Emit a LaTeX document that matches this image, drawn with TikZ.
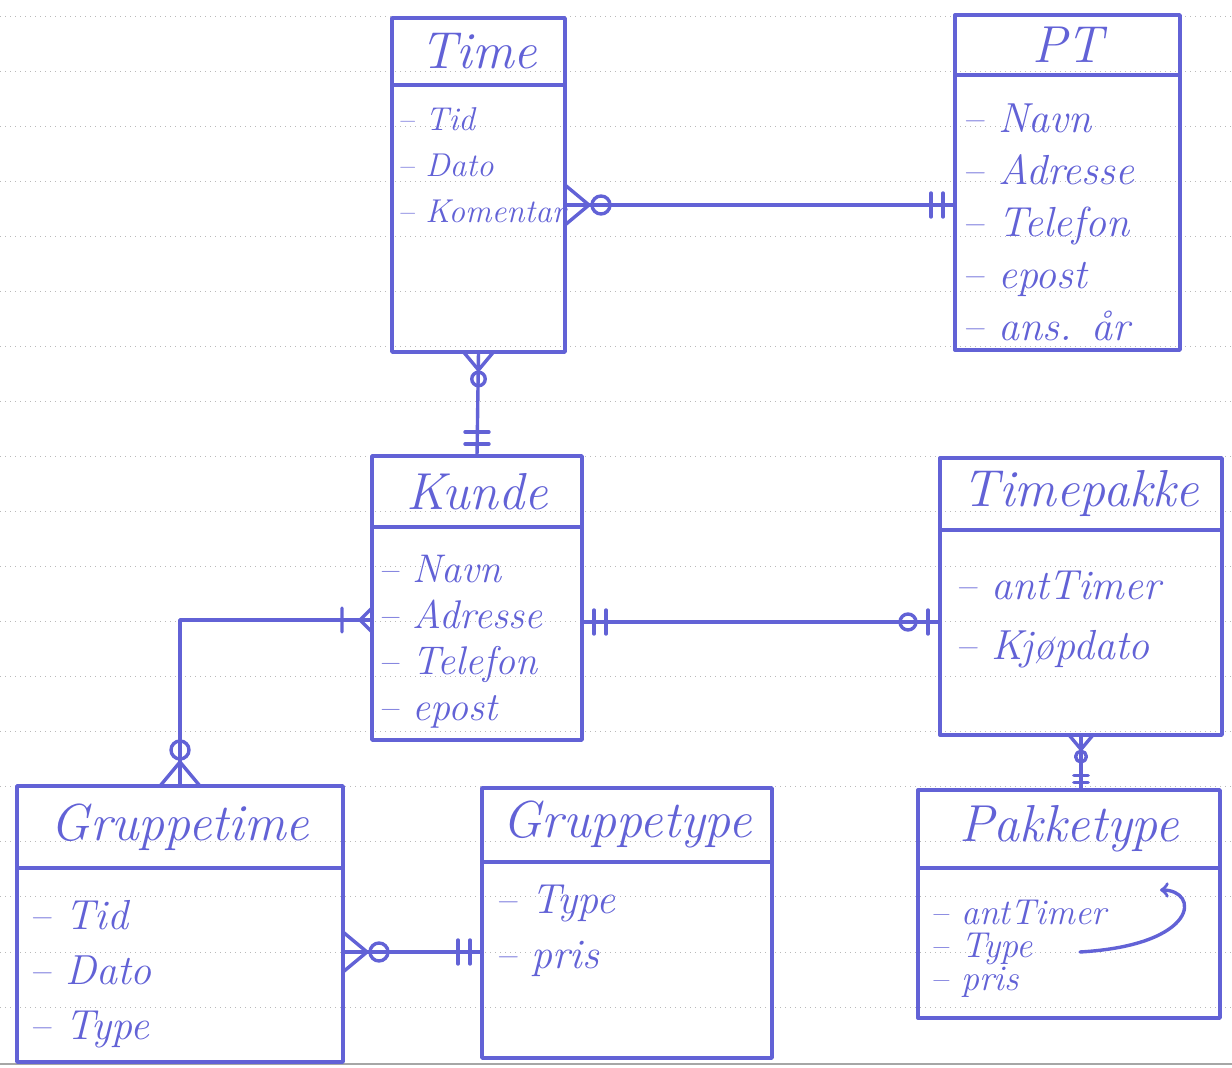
\documentclass[tikz,border=0pt]{standalone}
\usepackage{fontspec}
\usetikzlibrary{positioning}
\definecolor{penblue}{RGB}{98,98,214}
\newcommand\handfont[2]{\fontsize{#1}{#2}\selectfont\itshape}
\tikzset{
  pen/.style={draw=penblue, line width=1.7pt, line cap=round, line join=round},
  titlebox/.style={pen, text=penblue, font=\handfont{26}{30}, inner sep=0pt, outer sep=0pt, anchor=north west},
  bodybox/.style={pen, inner sep=0pt, outer sep=0pt},
  attrs/.style={text=penblue, inner sep=0pt, align=left, anchor=north west},
  ruled/.style={draw=gray!55, dotted, line width=0.5pt},
  % cardinality marks, drawn outward along +x from the box edge
  manyzero/.pic={\draw[pen] (0,-20) -- (24,0) -- (0,20); \draw[pen] (36,0) circle[radius=9];},
  onlyone/.pic={\draw[pen] (12,-12) -- (12,12) (24,-12) -- (24,12);},
  zeroone/.pic={\draw[pen] (12,-12) -- (12,12); \draw[pen] (32,0) circle[radius=8];},
  onemany/.pic={\draw[pen] (0,-12) -- (12,0) -- (0,12) (30,-12) -- (30,12);}
}
\begin{document}
\begin{tikzpicture}[x=0.5pt,y=-0.5pt,>=to]
    \useasboundingbox (0,0) rectangle (1232,1068);
    % paper
    \foreach \y in {17,72,...,1007} \draw[ruled] (0,\y) -- (1232,\y);
    \draw[gray!70, line width=0.8pt] (0,1064) -- (1232,1064);

    % entities
    \node[titlebox, minimum width=86.5pt, minimum height=33.5pt] (timet) at (392,18) {Time};
    \node[bodybox, minimum width=86.5pt, minimum height=133.5pt, below=0pt of timet] (timeb) {};
    \node[attrs, font=\handfont{16.5}{23}] (timea) at ([shift={(5,22)}]timeb.north west) {-- Tid\\-- Dato\\-- Komentar};

    \node[titlebox, minimum width=112.5pt, minimum height=30pt] (ptt) at (955,15) {PT};
    \node[bodybox, minimum width=112.5pt, minimum height=137.5pt, below=0pt of ptt] (ptb) {};
    \node[attrs, font=\handfont{21}{26}] (pta) at ([shift={(7,28)}]ptb.north west) {-- Navn\\-- Adresse\\-- Telefon\\-- epost\\-- ans. år};

    \node[titlebox, minimum width=105pt, minimum height=35.5pt] (kundet) at (372,456) {Kunde};
    \node[bodybox, minimum width=105pt, minimum height=106.5pt, below=0pt of kundet] (kundeb) {};
    \node[attrs, font=\handfont{20}{23}] (kundea) at ([shift={(6,28)}]kundeb.north west) {-- Navn\\-- Adresse\\-- Telefon\\-- epost};

    \node[titlebox, minimum width=141pt, minimum height=36pt] (tpakt) at (940,458) {Timepakke};
    \node[bodybox, minimum width=141pt, minimum height=102.5pt, below=0pt of tpakt] (tpakb) {};
    \node[attrs, font=\handfont{21}{30}] (tpaka) at ([shift={(15,41)}]tpakb.north west) {-- antTimer\\-- Kjøpdato};

    \node[titlebox, minimum width=163pt, minimum height=41pt] (gtimet) at (17,786) {Gruppetime};
    \node[bodybox, minimum width=163pt, minimum height=97pt, below=0pt of gtimet] (gtimeb) {};
    \node[attrs, font=\handfont{21}{27.5}] (gtimea) at ([shift={(12,32)}]gtimeb.north west) {-- Tid\\-- Dato\\-- Type};

    \node[titlebox, minimum width=145pt, minimum height=37pt] (gtypet) at (482,788) {Gruppetype};
    \node[bodybox, minimum width=145pt, minimum height=98pt, below=0pt of gtypet] (gtypeb) {};
    \node[attrs, font=\handfont{21}{27.5}] (gtypea) at ([shift={(13,23)}]gtypeb.north west) {-- Type\\-- pris};

    \node[titlebox, minimum width=151pt, minimum height=39pt] (pakt) at (918,790) {Pakketype};
    \node[bodybox, minimum width=151pt, minimum height=75pt, below=0pt of pakt] (pakb) {};
    \node[attrs, font=\handfont{18}{16.5}] (paka) at ([shift={(12,32)}]pakb.north west) {-- antTimer\\-- Type\\-- pris};
    \draw[pen, ->] (1080,952) .. controls (1200,945) and (1200,890) .. (1160,890);

    % relations
    \draw[pen] (timeb.east |- 0,205) -- (ptb.west |- 0,205);
    \pic at (timeb.east |- 0,205) {manyzero};
    \pic[rotate=180] at (ptb.west |- 0,205) {onlyone};

    \draw[pen] (timeb.south) -- (kundet.north);
    \pic[rotate=-90, scale=0.75] at (timeb.south) {manyzero};
    \pic[rotate=90] at (kundet.north) {onlyone};

    \draw[pen] (kundeb.east |- 0,622) -- (tpakb.west |- 0,622);
    \pic at (kundeb.east |- 0,622) {onlyone};
    \pic[rotate=180] at (tpakb.west |- 0,622) {zeroone};

    \draw[pen] (kundeb.west |- 0,620) -| (gtimet.north);
    \pic[rotate=180] at (kundeb.west |- 0,620) {onemany};
    \pic[rotate=90] at (gtimet.north) {manyzero};

    \draw[pen] (gtimeb.east |- 0,952) -- (gtypeb.west |- 0,952);
    \pic at (gtimeb.east |- 0,952) {manyzero};
    \pic[rotate=180] at (gtypeb.west |- 0,952) {onlyone};

    \draw[pen] (tpakb.south) -- (tpakb.south |- pakt.north);
    \pic[rotate=-90, scale=0.6] at (tpakb.south) {manyzero};
    \pic[rotate=90, scale=0.6] at (tpakb.south |- pakt.north) {onlyone};
\end{tikzpicture}
\end{document}
